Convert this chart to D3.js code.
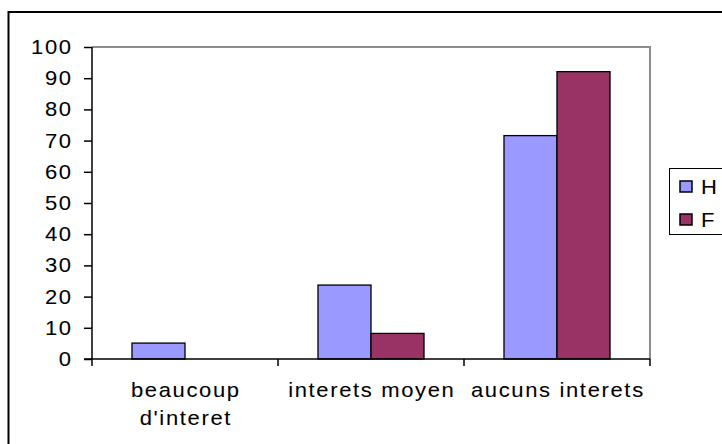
<!DOCTYPE html>
<html>
<head>
<meta charset="utf-8">
<script src="https://cdn.jsdelivr.net/npm/d3@7"></script>
<style>
  html, body { margin: 0; padding: 0; background: #fff; }
  svg text { font-family: "Liberation Sans", Arial, sans-serif; fill: #000; }
</style>
</head>
<body>
<svg id="chart" width="722" height="444"></svg>
<script>
// Interest levels by sex (percent)
const categories = ["beaucoup d'interet", "interets moyen", "aucuns interets"];
const seriesNames = ["H", "F"];
const valuesH = [5.1, 23.7, 71.6];
const valuesF = [0, 8.2, 92.1];
const seriesColors = ["#9999FF", "#993366"];
const yTicks = [0, 10, 20, 30, 40, 50, 60, 70, 80, 90, 100];

const series = [valuesH, valuesF];
const svg = d3.select("#chart");

const fontSize = 20;
const spacing = 1.5;
const stretch = 1.1;

// place a horizontally stretched label
function label(parent, x, y, str, anchor) {
  const t = parent.append("text")
    .attr("transform", `translate(${x},${y}) scale(${stretch},1)`)
    .attr("text-anchor", anchor || "start")
    .attr("font-size", fontSize)
    .style("letter-spacing", spacing + "px")
    .attr("stroke", "#000").attr("stroke-width", 0.08)
    .text(str);
  if (anchor === "end") t.attr("dx", spacing);
  if (anchor === "middle") t.attr("dx", spacing / 2);
  return t;
}

// outer chart frame
svg.append("rect")
  .attr("x", 8.5).attr("y", 12)
  .attr("width", 740).attr("height", 460)
  .attr("fill", "none").attr("stroke", "#000").attr("stroke-width", 2);

const plot = { left: 92, right: 650, top: 47, bottom: 359 };

const x0 = d3.scaleBand().domain(categories).range([plot.left, plot.right]);
const groupWidth = x0.bandwidth() * 0.57;
const x1 = d3.scaleBand().domain(seriesNames)
  .range([(x0.bandwidth() - groupWidth) / 2, (x0.bandwidth() + groupWidth) / 2]);
const y = d3.scaleLinear().domain([0, 100]).range([plot.bottom, plot.top]);

// plot area border (top and right edges, grey)
svg.append("path")
  .attr("d", `M${plot.left},${y(100)}H${plot.right}V${plot.bottom}`)
  .attr("fill", "none").attr("stroke", "#8c8c8c").attr("stroke-width", 2);

// bars
categories.forEach((c, i) => {
  seriesNames.forEach((s, j) => {
    const v = series[j][i];
    if (v <= 0) return;
    svg.append("rect")
      .attr("x", x0(c) + x1(s))
      .attr("y", y(v))
      .attr("width", x1.bandwidth())
      .attr("height", y(0) - y(v))
      .attr("fill", seriesColors[j])
      .attr("stroke", "#000").attr("stroke-width", 1.3);
  });
});

// y axis
const yAxis = d3.axisLeft(y).tickValues(yTicks).tickSize(8).tickFormat("");
const yg = svg.append("g").attr("transform", `translate(${plot.left},0)`).call(yAxis);
yg.select(".domain").attr("stroke", "#000").attr("stroke-width", 1.5)
  .attr("d", `M0,${y(100)}V${y(0)}`);
yg.selectAll(".tick line").attr("stroke", "#000").attr("stroke-width", 1.5);
yTicks.forEach(v => {
  label(svg, plot.left - 21, y(v) + 7, String(v), "end");
});

// x axis baseline and category ticks
const xg = svg.append("g");
xg.append("line")
  .attr("x1", plot.left - 8).attr("x2", plot.right)
  .attr("y1", y(0)).attr("y2", y(0))
  .attr("stroke", "#000").attr("stroke-width", 1.5);
const boundaries = categories.map(c => x0(c)).concat([plot.right]);
xg.selectAll("line.ct").data(boundaries).enter().append("line")
  .attr("class", "ct")
  .attr("x1", d => d).attr("x2", d => d)
  .attr("y1", y(0)).attr("y2", y(0) + 7)
  .attr("stroke", "#000").attr("stroke-width", 1.5);

// category labels, wrapped to the band width
categories.forEach(c => {
  const cx = x0(c) + x0.bandwidth() / 2;
  const words = c.split(" ");
  const lines = [];
  let line = [];
  words.forEach(w => {
    const trial = line.concat([w]).join(" ");
    const probe = label(svg, 0, -100, trial, "start");
    const wdt = probe.node().getComputedTextLength() * stretch;
    probe.remove();
    if (wdt > x0.bandwidth() - 4 && line.length) {
      lines.push(line.join(" "));
      line = [w];
    } else {
      line.push(w);
    }
  });
  lines.push(line.join(" "));
  lines.forEach((l, k) => label(svg, cx, 397 + k * 27.5, l, "middle"));
});

// legend
const legend = svg.append("g");
legend.append("rect")
  .attr("x", 669.5).attr("y", 168.5)
  .attr("width", 80).attr("height", 66)
  .attr("fill", "#fff").attr("stroke", "#000").attr("stroke-width", 1);
seriesNames.forEach((s, j) => {
  const yy = 181 + j * 33;
  legend.append("rect")
    .attr("x", 680).attr("y", yy)
    .attr("width", 12).attr("height", 11)
    .attr("fill", seriesColors[j])
    .attr("stroke", "#000").attr("stroke-width", 1.5);
  label(legend, 701, yy + 13, s, "start");
});
</script>
</body>
</html>
